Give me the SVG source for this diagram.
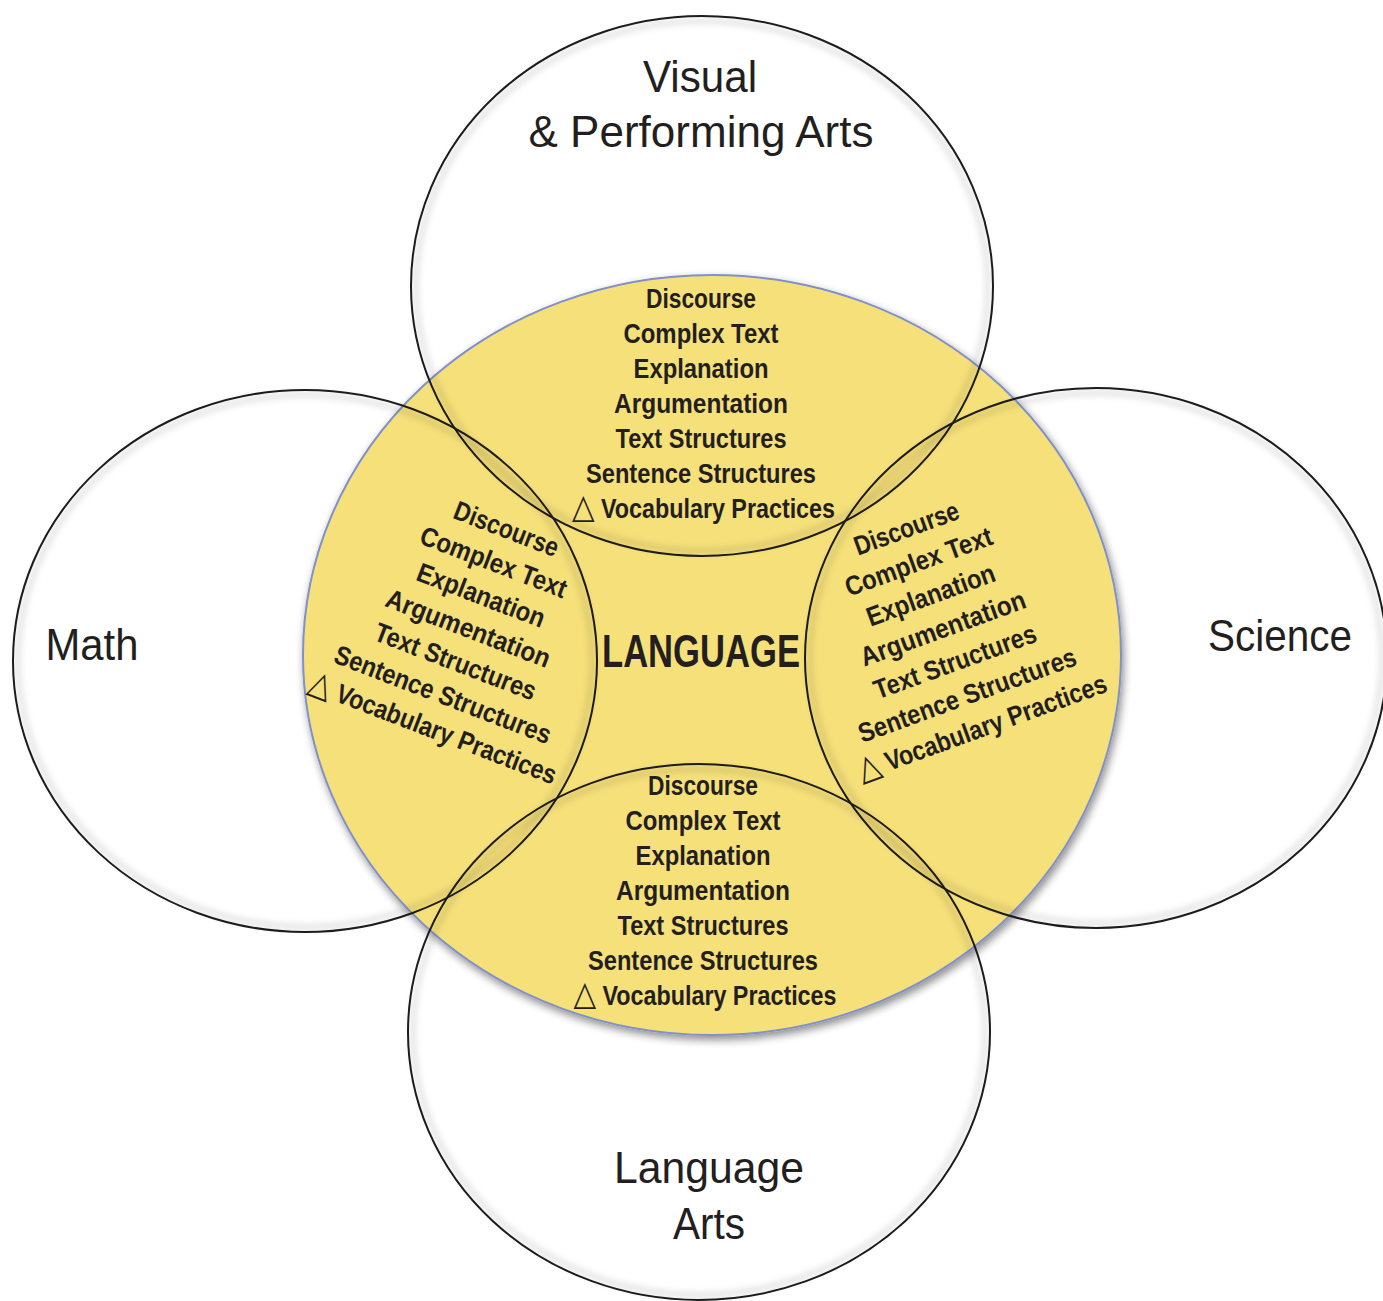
<svg xmlns="http://www.w3.org/2000/svg" width="1383" height="1301" viewBox="0 0 1383 1301">
<defs>
<style>
.lbl{font-family:"Liberation Sans","DejaVu Sans",sans-serif;fill:#231f20;}
.item{font-size:27px;font-weight:bold;text-anchor:middle;}
.tri{font-family:"DejaVu Sans",sans-serif;font-size:34px;font-weight:normal;}
.title{font-size:44px;text-anchor:middle;}
.core{font-size:46px;font-weight:bold;text-anchor:middle;}
.ring{fill:none;stroke:#1c1c1c;stroke-width:2;}
.glow{fill:none;stroke:#000;stroke-opacity:0.12;stroke-width:5;}
</style>
<filter id="shadow" x="-10%" y="-10%" width="120%" height="120%">
<feGaussianBlur in="SourceAlpha" stdDeviation="4"/>
<feOffset dx="2" dy="4" result="b"/>
<feComponentTransfer><feFuncA type="linear" slope="0.45"/></feComponentTransfer>
<feMerge><feMergeNode/><feMergeNode in="SourceGraphic"/></feMerge>
</filter>
<filter id="soft" x="-10%" y="-10%" width="120%" height="120%">
<feGaussianBlur stdDeviation="3"/>
</filter>
</defs>
<rect width="1383" height="1301" fill="#ffffff"/>

<g id="language-core">
<ellipse cx="712" cy="655" rx="409" ry="380" fill="#f6e07a" stroke="#8090c8" stroke-width="2" filter="url(#shadow)"/>
<text class="lbl core" x="701" y="667" textLength="198" lengthAdjust="spacingAndGlyphs">LANGUAGE</text>
</g>

<g id="visual-performing-arts">
<ellipse class="glow" cx="702" cy="286" rx="286" ry="265" filter="url(#soft)"/>
<ellipse class="ring" cx="702" cy="286" rx="291" ry="270"/>
<text class="lbl title" x="700" y="92" textLength="114" lengthAdjust="spacingAndGlyphs">Visual</text>
<text class="lbl title" x="701" y="147" textLength="345" lengthAdjust="spacingAndGlyphs">&amp; Performing Arts</text>
</g>

<g id="math">
<ellipse class="glow" cx="305" cy="661" rx="287" ry="266" filter="url(#soft)"/>
<ellipse class="ring" cx="305" cy="661" rx="292" ry="271"/>
<text class="lbl title" x="92" y="660" textLength="93" lengthAdjust="spacingAndGlyphs">Math</text>
</g>

<g id="science">
<ellipse class="glow" cx="1096" cy="658" rx="286" ry="265" filter="url(#soft)"/>
<ellipse class="ring" cx="1096" cy="658" rx="291" ry="270"/>
<text class="lbl title" x="1280" y="651" textLength="144" lengthAdjust="spacingAndGlyphs">Science</text>
</g>

<g id="language-arts">
<ellipse class="glow" cx="699" cy="1032" rx="286" ry="263" filter="url(#soft)"/>
<ellipse class="ring" cx="699" cy="1032" rx="291" ry="268"/>
<text class="lbl title" x="709" y="1183" textLength="190" lengthAdjust="spacingAndGlyphs">Language</text>
<text class="lbl title" x="709" y="1239" textLength="72" lengthAdjust="spacingAndGlyphs">Arts</text>
</g>

<g id="overlap-arts">
<text class="lbl item" x="701" y="308" textLength="110" lengthAdjust="spacingAndGlyphs">Discourse</text>
<text class="lbl item" x="701" y="343" textLength="155" lengthAdjust="spacingAndGlyphs">Complex Text</text>
<text class="lbl item" x="701" y="378" textLength="135" lengthAdjust="spacingAndGlyphs">Explanation</text>
<text class="lbl item" x="701" y="413" textLength="174" lengthAdjust="spacingAndGlyphs">Argumentation</text>
<text class="lbl item" x="701" y="448" textLength="171" lengthAdjust="spacingAndGlyphs">Text Structures</text>
<text class="lbl item" x="701" y="483" textLength="230" lengthAdjust="spacingAndGlyphs">Sentence Structures</text>
<text class="lbl item" x="703.5" y="518" textLength="263" lengthAdjust="spacingAndGlyphs"><tspan class="tri">△</tspan> Vocabulary Practices</text>
</g>

<g id="overlap-language-arts">
<text class="lbl item" x="703" y="795" textLength="110" lengthAdjust="spacingAndGlyphs">Discourse</text>
<text class="lbl item" x="703" y="830" textLength="155" lengthAdjust="spacingAndGlyphs">Complex Text</text>
<text class="lbl item" x="703" y="865" textLength="135" lengthAdjust="spacingAndGlyphs">Explanation</text>
<text class="lbl item" x="703" y="900" textLength="174" lengthAdjust="spacingAndGlyphs">Argumentation</text>
<text class="lbl item" x="703" y="935" textLength="171" lengthAdjust="spacingAndGlyphs">Text Structures</text>
<text class="lbl item" x="703" y="970" textLength="230" lengthAdjust="spacingAndGlyphs">Sentence Structures</text>
<text class="lbl item" x="705" y="1005" textLength="263" lengthAdjust="spacingAndGlyphs"><tspan class="tri">△</tspan> Vocabulary Practices</text>
</g>

<g id="overlap-math" transform="translate(465,637) rotate(21)">
<text class="lbl item" x="0" y="-106.5" textLength="110" lengthAdjust="spacingAndGlyphs">Discourse</text>
<text class="lbl item" x="0" y="-71" textLength="155" lengthAdjust="spacingAndGlyphs">Complex Text</text>
<text class="lbl item" x="0" y="-35.5" textLength="135" lengthAdjust="spacingAndGlyphs">Explanation</text>
<text class="lbl item" x="0" y="0" textLength="174" lengthAdjust="spacingAndGlyphs">Argumentation</text>
<text class="lbl item" x="0" y="35.5" textLength="171" lengthAdjust="spacingAndGlyphs">Text Structures</text>
<text class="lbl item" x="0" y="71" textLength="230" lengthAdjust="spacingAndGlyphs">Sentence Structures</text>
<text class="lbl item" x="3" y="106.5" textLength="263" lengthAdjust="spacingAndGlyphs"><tspan class="tri">△</tspan> Vocabulary Practices</text>
</g>

<g id="overlap-science" transform="translate(946,637) rotate(-20)">
<text class="lbl item" x="0" y="-106.5" textLength="110" lengthAdjust="spacingAndGlyphs">Discourse</text>
<text class="lbl item" x="0" y="-71" textLength="155" lengthAdjust="spacingAndGlyphs">Complex Text</text>
<text class="lbl item" x="0" y="-35.5" textLength="135" lengthAdjust="spacingAndGlyphs">Explanation</text>
<text class="lbl item" x="0" y="0" textLength="174" lengthAdjust="spacingAndGlyphs">Argumentation</text>
<text class="lbl item" x="0" y="35.5" textLength="171" lengthAdjust="spacingAndGlyphs">Text Structures</text>
<text class="lbl item" x="0" y="71" textLength="230" lengthAdjust="spacingAndGlyphs">Sentence Structures</text>
<text class="lbl item" x="3" y="106.5" textLength="263" lengthAdjust="spacingAndGlyphs"><tspan class="tri">△</tspan> Vocabulary Practices</text>
</g>
</svg>
